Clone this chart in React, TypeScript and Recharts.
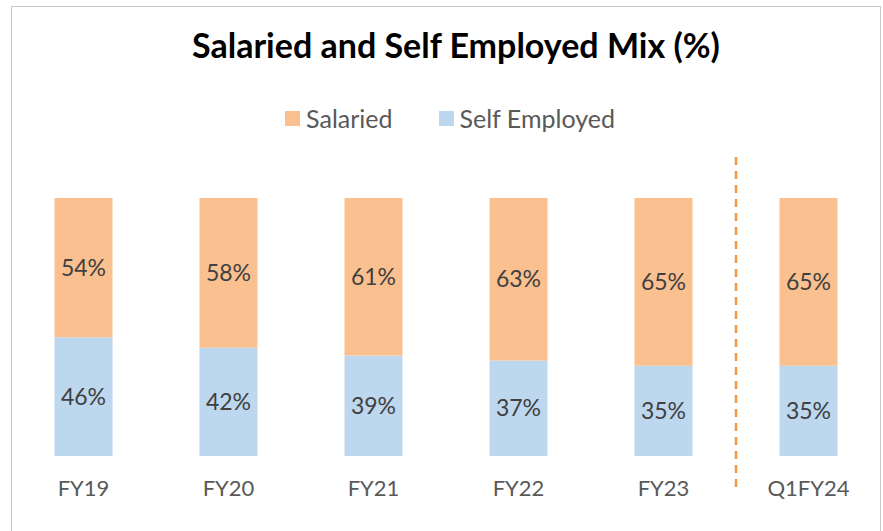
import React from 'react';
import { BarChart, Bar, XAxis, YAxis, Legend, LabelList, ReferenceLine } from 'recharts';

const periods = ['FY19', 'FY20', 'FY21', 'FY22', 'FY23', 'Q1FY24'];
const salaried = [54, 58, 61, 63, 65, 65];
const selfEmployed = [46, 42, 39, 37, 35, 35];

const data = periods.map((period, i) => ({
  period,
  salaried: salaried[i],
  selfEmployed: selfEmployed[i],
}));

const legendItems = [
  { name: 'Salaried', color: '#fac090' },
  { name: 'Self Employed', color: '#bdd7ee' },
];

const FONT = 'Lato, "Open Sans", sans-serif';
const pct = (v: any) => `${v}%`;

const LegendContent = () => (
  <div style={{ display: 'flex', justifyContent: 'center', alignItems: 'center', gap: 46, fontSize: 25, color: '#595959', fontFamily: FONT }}>
    {legendItems.map((it) => (
      <div key={it.name} style={{ display: 'flex', alignItems: 'center' }}>
        <span style={{ display: 'inline-block', width: 15, height: 15, background: it.color, marginRight: 6 }} />
        <span>{it.name}</span>
      </div>
    ))}
  </div>
);

export default function App() {
  return (
    <div style={{ position: 'absolute', left: 0, top: 0, width: 883, height: 531, background: '#fff', fontFamily: FONT, overflow: 'hidden' }}>
      <div style={{ position: 'absolute', left: 11, top: 6, width: 868, height: 540, border: '1px solid #c8c8c8' }} />
      <div style={{ position: 'absolute', left: 11, top: 24, width: 890, textAlign: 'center', fontSize: 34, fontWeight: 700, color: '#000' }}>
        Salaried and Self Employed Mix (%)
      </div>
      <div style={{ position: 'absolute', left: 0, top: 0 }}>
        <BarChart width={883} height={531} data={data} margin={{ top: 168, right: 2, left: 11, bottom: 35 }} barCategoryGap="30%">
          <XAxis dataKey="period" axisLine={false} tickLine={false} tickSize={0} tickMargin={24} height={40}
            tick={{ fill: '#595959', fontSize: 22, fontFamily: FONT }} interval={0} />
          <YAxis hide domain={[0, 100]} />
          <Legend verticalAlign="top" align="center" content={<LegendContent />}
            wrapperStyle={{ top: 103, left: 0, width: 900, height: 30 }} />
          <ReferenceLine segment={[{ x: 'Q1FY24', y: -12 }, { x: 'Q1FY24', y: 116 }]} position="start"
            ifOverflow="visible" stroke="#f79646" strokeWidth={2.5} strokeDasharray="8 6" />
          <Bar dataKey="selfEmployed" name="Self Employed" stackId="a" fill="#bdd7ee" isAnimationActive={false}>
            <LabelList dataKey="selfEmployed" position="center" formatter={pct} fill="#404040" fontSize={23} fontFamily={FONT} />
          </Bar>
          <Bar dataKey="salaried" name="Salaried" stackId="a" fill="#fac090" isAnimationActive={false}>
            <LabelList dataKey="salaried" position="center" formatter={pct} fill="#404040" fontSize={23} fontFamily={FONT} />
          </Bar>
        </BarChart>
      </div>
    </div>
  );
}
